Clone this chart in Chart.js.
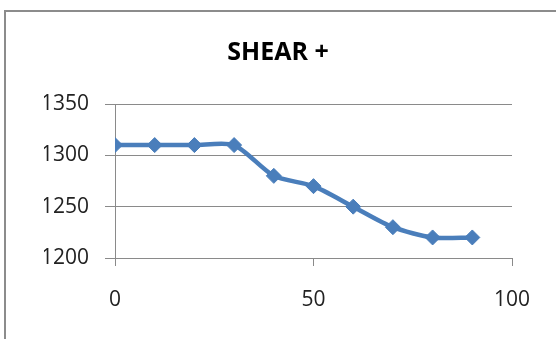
<!DOCTYPE html>
<html>
<head>
<meta charset="utf-8">
<script src="https://cdn.jsdelivr.net/npm/chart.js@4"></script>
<style>
    body { margin: 0; background: #fff; }
    canvas { display: block; }
</style>
</head>
<body>
<canvas id="ShearChart" width="556" height="339"></canvas>
<script>
// values
const positions = [0, 10, 20, 30, 40, 50, 60, 70, 80, 90];
const shearValues = [1310, 1310, 1310, 1310, 1280, 1270, 1250, 1230, 1220, 1220];
const xTicks = [0, 50, 100];
const yTicks = [1200, 1250, 1300, 1350];

const blue = '#4a7ebb';
const grey = '#8a8a8a';

// outer frame of the chart object
const framePlugin = {
    id: 'frame',
    beforeDraw(chart) {
        const ctx = chart.ctx;
        ctx.save();
        ctx.fillStyle = '#fff';
        ctx.fillRect(0, 0, chart.width, chart.height);
        ctx.strokeStyle = '#8c8c8c';
        ctx.lineWidth = 2;
        ctx.beginPath();
        ctx.moveTo(5, chart.height + 5);
        ctx.lineTo(5, 11);
        ctx.lineTo(chart.width + 5, 11);
        ctx.stroke();
        ctx.restore();
    }
};

let ctx = document.getElementById('ShearChart').getContext('2d');
let chart = new Chart(ctx, {
    type: 'line',
    data: {
        datasets: [{
            label: 'SHEAR +',
            data: positions.map((x, i) => ({ x: x, y: shearValues[i] })),
            borderColor: blue,
            backgroundColor: blue,
            borderWidth: 4.5,
            tension: 0.25,
            pointStyle: 'rectRot',
            pointRadius: 7.5,
            pointBorderWidth: 1,
            pointBorderColor: blue,
            pointBackgroundColor: blue
        }]
    },
    options: {
        responsive: false,
        animation: false,
        layout: {
            padding: { left: 44, right: 44, top: 0, bottom: 0 }
        },
        plugins: {
            legend: { display: false },
            tooltip: { enabled: false },
            title: {
                display: true,
                text: 'SHEAR +',
                color: '#000',
                font: { family: 'Open Sans', size: 25, weight: 'bold', lineHeight: 1.2 },
                padding: { top: 38, bottom: 36 }
            }
        },
        scales: {
            x: {
                type: 'linear',
                min: 0,
                max: 100,
                afterBuildTicks: axis => { axis.ticks = xTicks.map(v => ({ value: v })); },
                afterFit: axis => { axis.height = 81; },
                grid: {
                    drawOnChartArea: false,
                    drawTicks: true,
                    tickLength: 8,
                    color: grey
                },
                border: { color: grey, width: 1 },
                ticks: {
                    color: '#222',
                    padding: 21,
                    maxRotation: 0,
                    font: { family: 'Open Sans', size: 21 }
                }
            },
            y: {
                min: 1200,
                max: 1350,
                afterBuildTicks: axis => { axis.ticks = yTicks.map(v => ({ value: v })); },
                afterFit: axis => { axis.width = 71; },
                grid: {
                    color: grey,
                    tickLength: 10
                },
                border: { color: grey, width: 1 },
                ticks: {
                    color: '#222',
                    padding: 16,
                    callback: v => String(v),
                    font: { family: 'Open Sans', size: 21 }
                }
            }
        }
    },
    plugins: [framePlugin]
});
</script>
</body>
</html>
